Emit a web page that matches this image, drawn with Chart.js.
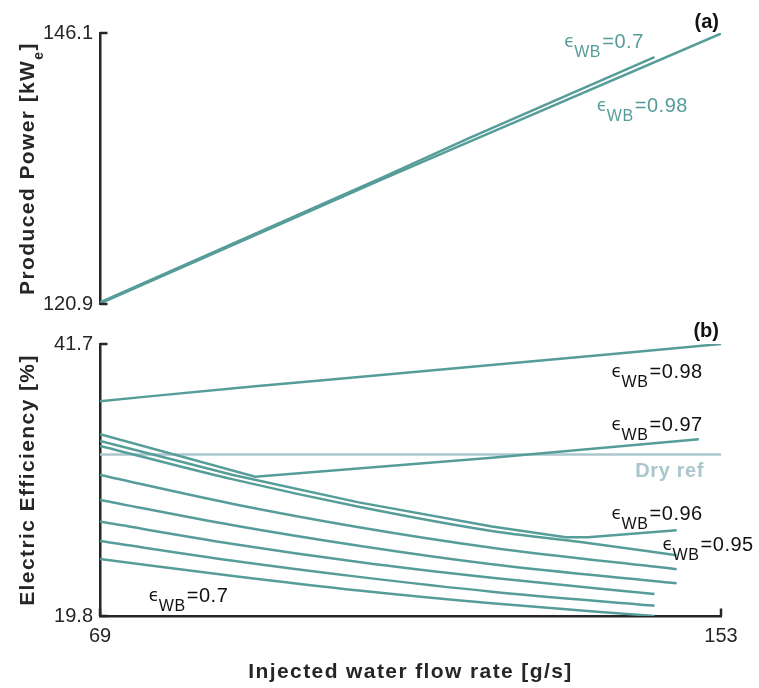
<!DOCTYPE html>
<html>
<head>
<meta charset="utf-8">
<script src="https://cdn.jsdelivr.net/npm/chart.js@4.4.1/dist/chart.umd.min.js"></script>
<style>
  body { margin: 0; background: #fff; }
  .panel { position: absolute; left: 0; top: 0; width: 759px; height: 688px; }
</style>
</head>
<body>
<div class="panel"><canvas id="powerChart" width="759" height="688"></canvas></div>
<div class="panel"><canvas id="effChart" width="759" height="688"></canvas></div>
<script>
// ---- panel (a): produced power [kWe] vs injected water flow [g/s]
const flowPow098 = [69, 107, 119, 153];
const power098   = [120.95, 132.45, 136.0, 146.05];
const flowPow07  = [69, 107, 119, 144];
const power07    = [121.05, 132.6, 136.35, 143.85];
const powerTicks = [120.9, 146.1];

// ---- panel (b): electric efficiency [%]
const flowEff098 = [69, 90, 107, 153];
const eff098     = [37.1, 38.3, 39.2, 41.7];
const flowEff097 = [69, 90, 122, 150];
const eff097     = [34.43, 31.02, 32.55, 34.03];
const flowEff096 = [69, 87, 104, 122, 132, 135, 147];
const eff096     = [33.9, 31.15, 28.95, 27.0, 26.15, 26.15, 26.7];
const flowEff095 = [69, 87, 104, 122, 134, 147];
const eff095     = [33.5, 30.8, 28.6, 26.65, 25.75, 24.7];
const flowEff090 = [69, 87, 104, 122, 147];
const eff090     = [31.15, 28.82, 26.95, 25.3, 23.56];
const flowEff085 = [69, 87, 104, 122, 147];
const eff085     = [29.14, 27.1, 25.45, 23.96, 22.43];
const flowEff080 = [69, 87, 104, 122, 144];
const eff080     = [27.4, 25.6, 24.15, 22.88, 21.57];
const flowEff075 = [69, 87, 104, 122, 144];
const eff075     = [25.84, 24.25, 22.95, 21.76, 20.63];
const flowEff070 = [69, 87, 104, 122, 144];
const eff070     = [24.4, 23.02, 21.85, 20.82, 19.8];
const dryFlow    = [69, 153];
const dryEff     = [32.8, 32.8];
const effTicks   = [19.8, 41.7];
const flowTicks  = [69, 153];

// labels (epsilon_WB value, anchor in data units)
const powLabelText = ['0.7', '0.98'];
const powLabelX    = [131.8, 136.2];
const powLabelY    = [144.68, 138.78];
const effLabelText = ['0.98', '0.97', '0.96', '0.95', '0.7'];
const effLabelX    = [138.2, 138.2, 138.2, 145.1, 75.6];
const effLabelY    = [38.99, 34.72, 27.53, 25.06, 20.95];

const axisColor = '#262626';
const teal = 'rgb(86,157,153)';
const dryColor = 'rgb(170,199,206)';
const sans = "'Liberation Sans', Arial, Helvetica, sans-serif";

function toPoints(xs, ys){
  return xs.map(function(x, i){ return {x: x, y: ys[i]}; });
}

function lineSet(label, xs, ys, color, curved, order){
  return {
    label: label,
    data: toPoints(xs, ys),
    borderColor: color,
    backgroundColor: color,
    borderWidth: 2.5,
    pointRadius: 0,
    fill: false,
    tension: 0,
    cubicInterpolationMode: curved ? 'monotone' : 'default',
    order: order || 0
  };
}

function fixedTicks(values){
  return function(scale){ scale.ticks = values.map(function(v){ return {value: v}; }); };
}

function innerTicks(chart){
  const ctx = chart.ctx, area = chart.chartArea;
  ctx.save();
  ctx.strokeStyle = axisColor;
  ctx.lineWidth = 2.5;
  const ys = chart.scales.y;
  ys.ticks.forEach(function(t){
    const p = ys.getPixelForValue(t.value);
    ctx.beginPath(); ctx.moveTo(area.left, p); ctx.lineTo(area.left + 7.5, p); ctx.stroke();
  });
  const xs = chart.scales.x;
  if (xs.options.display) {
    xs.ticks.forEach(function(t){
      const p = xs.getPixelForValue(t.value);
      ctx.beginPath(); ctx.moveTo(p, area.bottom); ctx.lineTo(p, area.bottom - 7.5); ctx.stroke();
    });
  }
  ctx.restore();
}

function epsLabel(ctx, px, py, value, color){
  ctx.fillStyle = color;
  ctx.textAlign = 'left';
  ctx.textBaseline = 'alphabetic';
  ctx.font = "17px 'DejaVu Sans', sans-serif";
  ctx.fillText('\u03F5', px, py - 1);
  ctx.font = '16px ' + sans;
  ctx.letterSpacing = '0.5px';
  ctx.fillText('WB', px + 10, py + 9);
  ctx.font = '20px ' + sans;
  ctx.fillText('=' + value, px + 38, py);
  ctx.letterSpacing = '0px';
}

function yTitle(ctx, cy, main, sub, tail){
  ctx.save();
  ctx.translate(34, cy);
  ctx.rotate(-Math.PI / 2);
  ctx.fillStyle = axisColor;
  ctx.textBaseline = 'alphabetic';
  ctx.textAlign = 'left';
  ctx.letterSpacing = '1.4px';
  ctx.font = 'bold 21px ' + sans;
  const w1 = ctx.measureText(main).width;
  let w2 = 0, w3 = 0;
  if (sub) {
    ctx.font = 'bold 14px ' + sans;
    w2 = ctx.measureText(sub).width;
    ctx.font = 'bold 21px ' + sans;
    w3 = ctx.measureText(tail).width;
  }
  let x = -(w1 + w2 + w3) / 2;
  ctx.fillText(main, x, 0);
  if (sub) {
    x += w1;
    ctx.font = 'bold 14px ' + sans;
    ctx.fillText(sub, x, 9);
    x += w2;
    ctx.font = 'bold 21px ' + sans;
    ctx.fillText(tail, x, 0);
  }
  ctx.restore();
}

const yAxisBase = {
  type: 'linear',
  afterFit: function(scale){ scale.width = 100; },
  grid: { display: false, drawTicks: false },
  border: { display: true, color: axisColor, width: 2.5 },
  ticks: {
    color: axisColor,
    padding: 7,
    font: { family: sans, size: 20 },
    callback: function(v){ return v.toFixed(1); }
  }
};

// ---------- panel (a)
new Chart(document.getElementById('powerChart').getContext('2d'), {
  type: 'line',
  data: {
    datasets: [
      lineSet('eWB=0.7', flowPow07, power07, teal, false),
      lineSet('eWB=0.98', flowPow098, power098, teal, false)
    ]
  },
  options: {
    responsive: false,
    animation: false,
    layout: { padding: { left: 0, top: 33, right: 38, bottom: 384 } },
    plugins: { legend: { display: false }, tooltip: { enabled: false } },
    scales: {
      x: { type: 'linear', min: 69, max: 153, display: false },
      y: Object.assign({}, yAxisBase, {
        min: powerTicks[0], max: powerTicks[1],
        afterBuildTicks: fixedTicks(powerTicks)
      })
    }
  },
  plugins: [{
    id: 'powerDecor',
    afterDraw: function(chart){
      const ctx = chart.ctx, xs = chart.scales.x, ys = chart.scales.y;
      innerTicks(chart);
      ctx.save();
      powLabelText.forEach(function(t, i){
        epsLabel(ctx, xs.getPixelForValue(powLabelX[i]), ys.getPixelForValue(powLabelY[i]), t, teal);
      });
      ctx.font = 'bold 20px ' + sans;
      ctx.fillStyle = '#111';
      ctx.textAlign = 'right';
      ctx.fillText('(a)', chart.chartArea.right - 2, chart.chartArea.top - 5);
      yTitle(ctx, (chart.chartArea.top + chart.chartArea.bottom) / 2, 'Produced Power [kW', 'e', ']');
      ctx.restore();
    }
  }]
});

// ---------- panel (b)
new Chart(document.getElementById('effChart').getContext('2d'), {
  type: 'line',
  data: {
    datasets: [
      lineSet('eWB=0.98', flowEff098, eff098, teal, true),
      lineSet('eWB=0.97', flowEff097, eff097, teal, false),
      lineSet('eWB=0.96', flowEff096, eff096, teal, false),
      lineSet('eWB=0.95', flowEff095, eff095, teal, true),
      lineSet('eWB=0.9', flowEff090, eff090, teal, true),
      lineSet('eWB=0.85', flowEff085, eff085, teal, true),
      lineSet('eWB=0.8', flowEff080, eff080, teal, true),
      lineSet('eWB=0.75', flowEff075, eff075, teal, true),
      lineSet('eWB=0.7', flowEff070, eff070, teal, true),
      lineSet('Dry ref', dryFlow, dryEff, dryColor, false, 10)
    ]
  },
  options: {
    responsive: false,
    animation: false,
    layout: { padding: { left: 0, top: 344, right: 38, bottom: 0 } },
    plugins: { legend: { display: false }, tooltip: { enabled: false } },
    scales: {
      x: {
        type: 'linear', min: flowTicks[0], max: flowTicks[1],
        afterBuildTicks: fixedTicks(flowTicks),
        afterFit: function(scale){ scale.height = 72; },
        grid: { display: false, drawTicks: false },
        border: { display: true, color: axisColor, width: 2.5 },
        ticks: { color: axisColor, padding: 8, maxRotation: 0, font: { family: sans, size: 20 } }
      },
      y: Object.assign({}, yAxisBase, {
        min: effTicks[0], max: effTicks[1],
        afterBuildTicks: fixedTicks(effTicks)
      })
    }
  },
  plugins: [{
    id: 'effDecor',
    afterDraw: function(chart){
      const ctx = chart.ctx, xs = chart.scales.x, ys = chart.scales.y, area = chart.chartArea;
      innerTicks(chart);
      ctx.save();
      effLabelText.forEach(function(t, i){
        epsLabel(ctx, xs.getPixelForValue(effLabelX[i]), ys.getPixelForValue(effLabelY[i]), t, '#111');
      });
      ctx.font = 'bold 20px ' + sans;
      ctx.letterSpacing = '0.6px';
      ctx.fillStyle = dryColor;
      ctx.textAlign = 'right';
      ctx.fillText('Dry ref', xs.getPixelForValue(150.7), ys.getPixelForValue(31.02));
      ctx.letterSpacing = '0px';
      ctx.fillStyle = '#111';
      ctx.fillText('(b)', area.right - 2, area.top - 7);
      ctx.font = 'bold 21px ' + sans;
      ctx.letterSpacing = '1.4px';
      ctx.fillStyle = axisColor;
      ctx.textAlign = 'center';
      ctx.fillText('Injected water flow rate [g/s]', (area.left + area.right) / 2, 678);
      ctx.letterSpacing = '0px';
      yTitle(ctx, (area.top + area.bottom) / 2, 'Electric Efficiency [%]');
      ctx.restore();
    }
  }]
});
</script>
</body>
</html>
